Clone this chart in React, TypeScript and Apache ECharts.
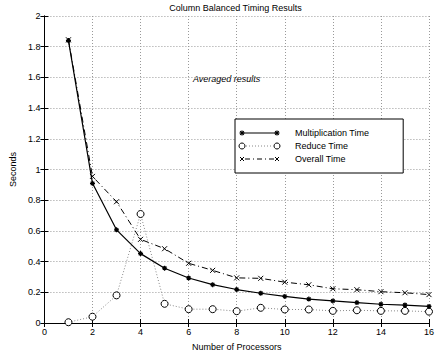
import React, { useEffect, useRef } from "react";
import * as echarts from "echarts";

const processors = [1, 2, 3, 4, 5, 6, 7, 8, 9, 10, 11, 12, 13, 14, 15, 16];
const multiplicationTime = [1.84, 0.91, 0.607, 0.452, 0.357, 0.293, 0.25, 0.218, 0.194, 0.173, 0.156, 0.144, 0.133, 0.122, 0.117, 0.108];
const reduceTime = [0.005, 0.041, 0.18, 0.71, 0.125, 0.09, 0.09, 0.077, 0.099, 0.088, 0.088, 0.079, 0.083, 0.079, 0.079, 0.074];
const overallTime = [1.845, 0.955, 0.79, 0.545, 0.484, 0.389, 0.343, 0.294, 0.291, 0.266, 0.249, 0.223, 0.217, 0.204, 0.197, 0.185];
const seriesNames = ["Multiplication Time", "Reduce Time", "Overall Time"];

const FONT = "'Liberation Sans', Arial, Helvetica, sans-serif";
const STAR = "path://M5,0L5,10M0,5L10,5M1.5,1.5L8.5,8.5M8.5,1.5L1.5,8.5";
const CROSS = "path://M0,0L10,10M10,0L0,10";

const pairs = (ys: number[]) => processors.map((x, i) => [x, ys[i]]);

const Z = 200;
const seg = (x1: number, y1: number, x2: number, y2: number, style: any) => ({
  type: "line",
  z: Z,
  shape: { x1, y1, x2, y2 },
  style,
});
// legend sample glyphs (drawn as graphics so that markers sit at both ends)
const starGlyph = (cx: number, cy: number) =>
  [
    [0, -2.5, 0, 2.5],
    [-2.5, 0, 2.5, 0],
    [-1.8, -1.8, 1.8, 1.8],
    [1.8, -1.8, -1.8, 1.8],
  ].map(([a, b, c, d]) => seg(cx + a, cy + b, cx + c, cy + d, { stroke: "#000", lineWidth: 1.2 }));
const crossGlyph = (cx: number, cy: number) =>
  [
    [-2, -2, 2, 2],
    [2, -2, -2, 2],
  ].map(([a, b, c, d]) => seg(cx + a, cy + b, cx + c, cy + d, { stroke: "#000", lineWidth: 1 }));
const circleGlyph = (cx: number, cy: number) => ({
  type: "circle",
  z: Z,
  shape: { cx, cy, r: 3 },
  style: { fill: "#fff", stroke: "#000", lineWidth: 1 },
});

export default function App() {
  const ref = useRef<HTMLDivElement>(null);
  useEffect(() => {
    if (!ref.current) return;
    const chart = echarts.init(ref.current, undefined, { renderer: "svg" });
    const axisLine = { show: true, lineStyle: { color: "#000", width: 1 } };
    const tick = { show: true, inside: true, length: 4, lineStyle: { color: "#000" } };
    const lx1 = 242;
    const lx2 = 277;
    const rows = [133, 146, 159];
    chart.setOption({
      animation: false,
      backgroundColor: "#fff",
      textStyle: { fontFamily: FONT },
      title: {
        text: "Column Balanced Timing Results",
        left: 235.5,
        textAlign: "center",
        top: 3,
        padding: 0,
        textStyle: { fontSize: 9, fontWeight: "normal", color: "#000", fontFamily: FONT },
      },
      grid: { left: 39, right: 5, top: 16, bottom: 29, containLabel: false },
      xAxis: [
        {
          type: "value",
          min: 0,
          max: 16,
          interval: 2,
          name: "Number of Processors",
          nameLocation: "middle",
          nameGap: 19,
          nameTextStyle: { fontSize: 9, color: "#000", fontFamily: FONT },
          axisLine,
          axisTick: tick,
          axisLabel: { fontSize: 9, color: "#000", margin: 4, fontFamily: FONT },
          splitLine: { show: true, lineStyle: { color: "#999", type: [1, 2], width: 1 } },
        },
        {
          type: "value",
          position: "top",
          min: 0,
          max: 16,
          interval: 2,
          axisLine,
          axisTick: tick,
          axisLabel: { show: false },
          splitLine: { show: false },
        },
      ],
      yAxis: [
        {
          type: "value",
          min: 0,
          max: 2,
          interval: 0.2,
          name: "Seconds",
          nameLocation: "middle",
          nameGap: 20,
          nameTextStyle: { fontSize: 9, color: "#000", fontFamily: FONT },
          axisLine,
          axisTick: tick,
          axisLabel: { fontSize: 9, color: "#000", margin: 4, fontFamily: FONT },
          splitLine: { show: true, lineStyle: { color: "#999", type: [1, 2], width: 1 } },
        },
        {
          type: "value",
          position: "right",
          min: 0,
          max: 2,
          interval: 0.2,
          axisLine,
          axisTick: tick,
          axisLabel: { show: false },
          splitLine: { show: false },
        },
      ],
      legend: {
        orient: "vertical",
        left: 235,
        top: 119,
        itemWidth: 35,
        itemHeight: 8,
        itemGap: 3,
        padding: [9, 34, 9, 7],
        borderColor: "#000",
        borderWidth: 1,
        backgroundColor: "#fff",
        itemStyle: { opacity: 0 },
        lineStyle: { opacity: 0 },
        textStyle: { fontSize: 9, color: "#000", fontFamily: FONT, padding: [0, 0, 0, 12], lineHeight: 10 },
        data: seriesNames,
      },
      graphic: [
        {
          type: "text",
          left: 193,
          top: 74,
          style: { text: "Averaged results", font: `italic 9px ${FONT}`, fill: "#000" },
        },
        seg(lx1, rows[0], lx2, rows[0], { stroke: "#000", lineWidth: 1.2 }),
        ...starGlyph(lx1, rows[0]),
        ...starGlyph(lx2, rows[0]),
        seg(lx1 + 4, rows[1], lx2 - 4, rows[1], { stroke: "#888", lineWidth: 1, lineDash: [1, 2] }),
        circleGlyph(lx1, rows[1]),
        circleGlyph(lx2, rows[1]),
        seg(lx1 + 3, rows[2], lx2 - 3, rows[2], { stroke: "#000", lineWidth: 1, lineDash: [5, 3, 1, 3] }),
        ...crossGlyph(lx1, rows[2]),
        ...crossGlyph(lx2, rows[2]),
      ],
      series: [
        {
          name: seriesNames[0],
          type: "line",
          data: pairs(multiplicationTime),
          symbol: STAR,
          symbolSize: 5,
          lineStyle: { color: "#000", width: 1.2, type: "solid" },
          itemStyle: { color: "#000", borderColor: "#000", borderWidth: 1.2 },
          z: 3,
        },
        {
          name: seriesNames[1],
          type: "line",
          data: pairs(reduceTime),
          symbol: "circle",
          symbolSize: 7,
          lineStyle: { color: "#888", width: 1, type: [1, 2] },
          itemStyle: { color: "#fff", borderColor: "#000", borderWidth: 1 },
          z: 2,
        },
        {
          name: seriesNames[2],
          type: "line",
          data: pairs(overallTime),
          symbol: CROSS,
          symbolSize: 5,
          lineStyle: { color: "#000", width: 1, type: [6, 3, 1, 3] },
          itemStyle: { color: "#000", borderColor: "#000", borderWidth: 1 },
          z: 2,
        },
      ],
    });
    return () => chart.dispose();
  }, []);
  return (
    <div
      ref={ref}
      style={{ position: "fixed", left: 0, top: 0, width: 437, height: 356, background: "#fff" }}
    />
  );
}
